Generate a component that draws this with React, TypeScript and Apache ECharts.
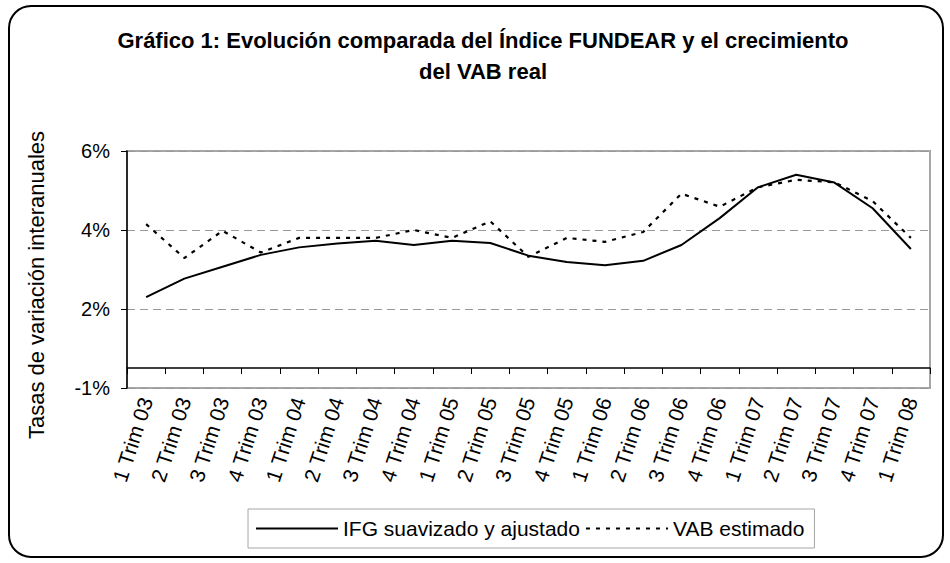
import React, { useEffect, useRef } from "react";
import * as echarts from "echarts";

const categories = [
  "1 Trim 03", "2 Trim 03", "3 Trim 03", "4 Trim 03",
  "1 Trim 04", "2 Trim 04", "3 Trim 04", "4 Trim 04",
  "1 Trim 05", "2 Trim 05", "3 Trim 05", "4 Trim 05",
  "1 Trim 06", "2 Trim 06", "3 Trim 06", "4 Trim 06",
  "1 Trim 07", "2 Trim 07", "3 Trim 07", "4 Trim 07",
  "1 Trim 08",
];

const ifgValues = [
  2.30, 2.77, 3.07, 3.37, 3.56, 3.66, 3.73, 3.62, 3.73, 3.67, 3.35,
  3.19, 3.11, 3.22, 3.62, 4.30, 5.08, 5.40, 5.20, 4.55, 3.52,
];

const vabValues = [
  4.15, 3.29, 3.98, 3.43, 3.80, 3.80, 3.80, 4.00, 3.80, 4.22, 3.32,
  3.80, 3.70, 3.95, 4.92, 4.59, 5.08, 5.27, 5.21, 4.73, 3.80,
];

const seriesNames = ["IFG suavizado y ajustado", "VAB estimado"];
const titleLines = [
  "Gráfico 1: Evolución comparada del Índice FUNDEAR y el crecimiento",
  "del VAB real",
];
const yAxisTitle = "Tasas de variación interanuales";
const yTickLabels: Record<number, string> = { 0: "-1%", 2: "2%", 4: "4%", 6: "6%" };

const FONT = "'Liberation Sans', Arial, sans-serif";

export default function App() {
  const ref = useRef<HTMLDivElement>(null);
  useEffect(() => {
    document.body.style.margin = "0";
    const chart = echarts.init(ref.current!, null, { renderer: "svg" });
    chart.setOption({
      animation: false,
      backgroundColor: "#ffffff",
      textStyle: { fontFamily: FONT },
      graphic: [
        {
          type: "rect",
          shape: { x: 9, y: 6, width: 934, height: 551, r: 22 },
          style: { fill: "none", stroke: "#000", lineWidth: 2 },
          silent: true,
          z: -1,
        },
        {
          type: "text",
          x: 483,
          y: 40,
          style: {
            text: titleLines[0],
            font: `bold 22px ${FONT}`,
            fill: "#000",
            align: "center",
            verticalAlign: "middle",
          },
        },
        {
          type: "text",
          x: 483,
          y: 71,
          style: {
            text: titleLines[1],
            font: `bold 22px ${FONT}`,
            fill: "#000",
            align: "center",
            verticalAlign: "middle",
          },
        },
        {
          type: "text",
          x: 36,
          y: 285,
          rotation: Math.PI / 2,
          style: {
            text: yAxisTitle,
            font: `22px ${FONT}`,
            fill: "#000",
            align: "center",
            verticalAlign: "middle",
          },
        },
      ],
      grid: {
        left: 127,
        right: 20,
        top: 151,
        bottom: 175,
        show: true,
        borderColor: "#a6a6a6",
        borderWidth: 2,
        backgroundColor: "transparent",
      },
      legend: {
        left: 248,
        top: 509,
        orient: "horizontal",
        itemWidth: 82,
        itemHeight: 12,
        itemGap: 5,
        padding: [9, 10, 9, 7],
        borderColor: "#a6a6a6",
        borderWidth: 1,
        itemStyle: { opacity: 0, borderWidth: 0 },
        textStyle: { fontSize: 21, color: "#000", fontFamily: FONT },
        data: seriesNames,
      },
      xAxis: {
        type: "category",
        data: categories,
        boundaryGap: true,
        offset: -20,
        axisLine: { onZero: false, lineStyle: { color: "#000", width: 1.5 } },
        axisTick: { show: true, inside: false, length: 6, lineStyle: { color: "#000" } },
        axisLabel: {
          rotate: 72,
          margin: 30,
          interval: 0,
          fontSize: 21,
          color: "#000",
          fontFamily: FONT,
        },
        splitLine: { show: false },
      },
      yAxis: {
        type: "value",
        min: 0,
        max: 6,
        interval: 2,
        axisLine: { show: true, lineStyle: { color: "#000", width: 1.5 } },
        axisTick: { show: true, inside: false, length: 6, lineStyle: { color: "#000" } },
        axisLabel: {
          margin: 17,
          fontSize: 20,
          color: "#000",
          fontFamily: FONT,
          formatter: (v: number) => yTickLabels[v] ?? `${v}%`,
        },
        splitLine: { show: true, lineStyle: { color: "#999", type: [8, 5], width: 1 } },
      },
      series: [
        {
          name: seriesNames[0],
          type: "line",
          data: ifgValues,
          symbol: "none",
          lineStyle: { color: "#000", width: 2, type: "solid" },
          itemStyle: { color: "#000" },
        },
        {
          name: seriesNames[1],
          type: "line",
          data: vabValues,
          symbol: "none",
          lineStyle: { color: "#000", width: 2.2, type: [4, 6] },
          itemStyle: { color: "#000" },
        },
      ],
    });
    return () => chart.dispose();
  }, []);
  return (
    <div
      ref={ref}
      style={{ position: "absolute", left: 0, top: 0, width: 950, height: 563 }}
    />
  );
}
